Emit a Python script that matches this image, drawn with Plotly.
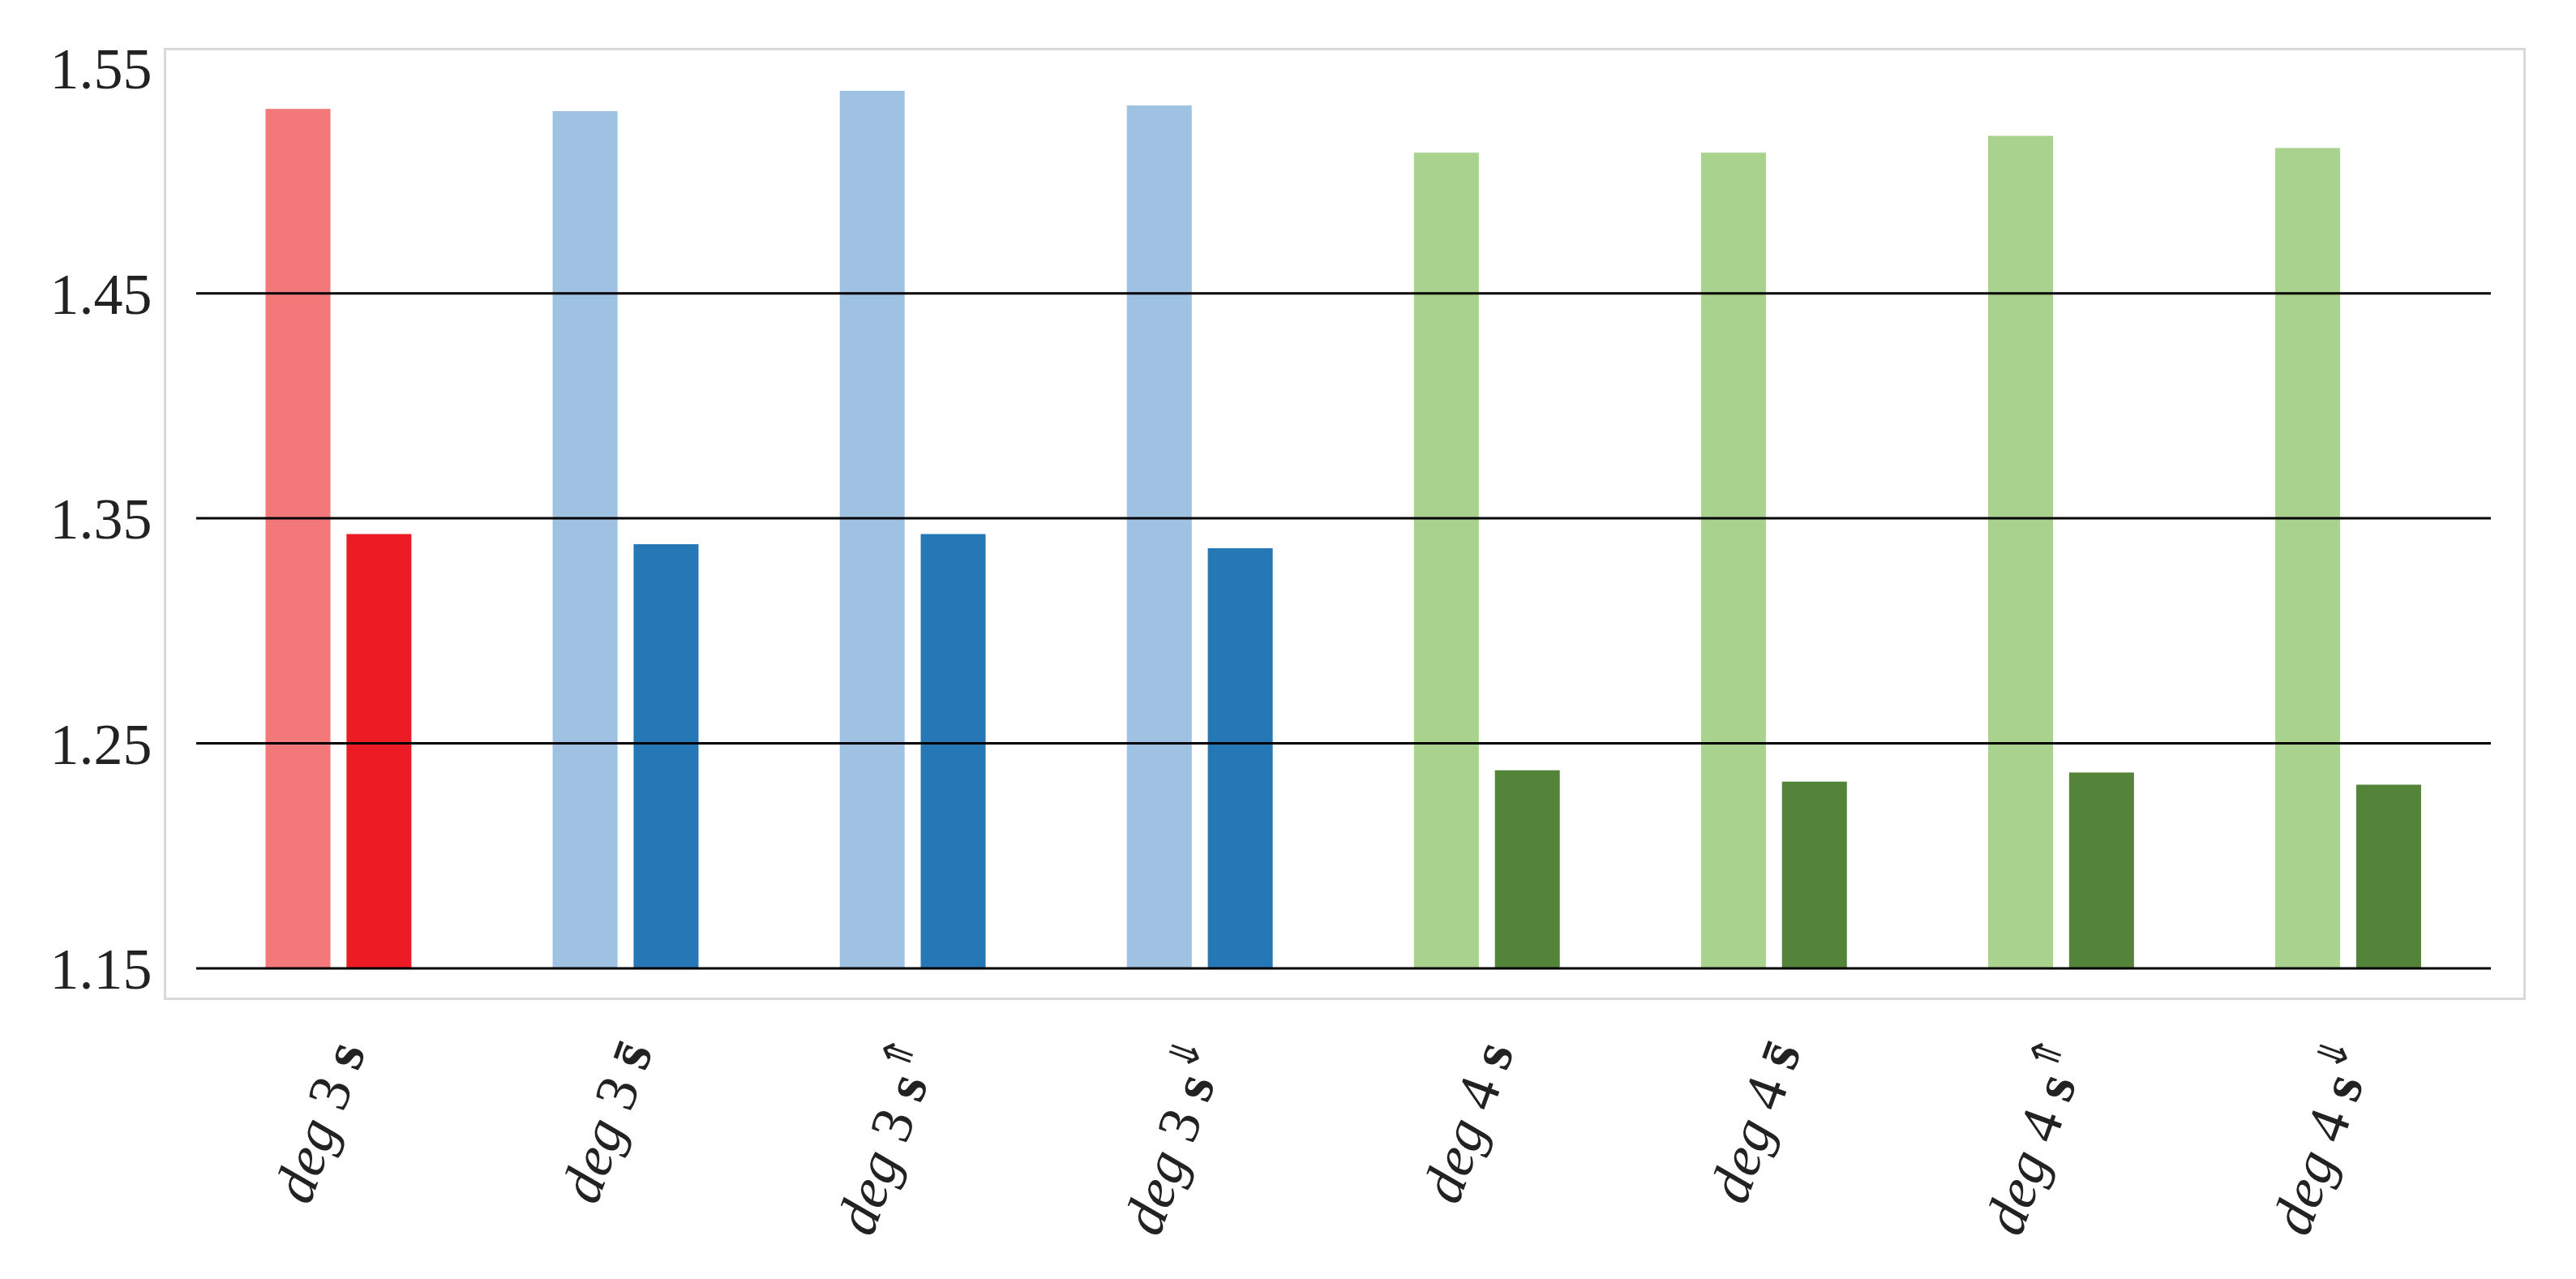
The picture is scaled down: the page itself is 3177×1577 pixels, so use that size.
import plotly.graph_objects as go

categories = ["<i>deg</i> 3 <b>s</b>", "<i>deg</i> 3 <b>s̄</b>", "<i>deg</i> 3 <b>s</b><sup>⇑</sup>", "<i>deg</i> 3 <b>s</b><sup>⇓</sup>",
              "<i>deg</i> 4 <b>s</b>", "<i>deg</i> 4 <b>s̄</b>", "<i>deg</i> 4 <b>s</b><sup>⇑</sup>", "<i>deg</i> 4 <b>s</b><sup>⇓</sup>"]
light_vals = [1.532, 1.531, 1.540, 1.5335, 1.5125, 1.5125, 1.520, 1.5146]
dark_vals = [1.343, 1.3385, 1.343, 1.3367, 1.238, 1.233, 1.237, 1.2316]
light_colors = ["#f2787a"] + ["#9fc2e3"] * 3 + ["#a8d28d"] * 4
dark_colors = ["#ed1c24"] + ["#2577b6"] * 3 + ["#548439"] * 4
yticks = [1.15, 1.25, 1.35, 1.45, 1.55]
base = 1.15

xs = list(range(len(categories)))
fig = go.Figure()
fig.add_bar(x=[x - 0.141 for x in xs], y=[v - base for v in light_vals], base=base,
            width=0.226, marker_color=light_colors, marker_line_width=0)
fig.add_bar(x=[x + 0.141 for x in xs], y=[v - base for v in dark_vals], base=base,
            width=0.226, marker_color=dark_colors, marker_line_width=0)

x0 = (234 - 197) / 2907
x1 = (3064 - 197) / 2907
for t in yticks[:-1]:
    fig.add_shape(type="line", xref="paper", yref="y", x0=x0, x1=x1, y0=t, y1=t,
                  line=dict(color="black", width=3), layer="above")

fig.update_layout(
    width=3177, height=1577, barmode="overlay", showlegend=False,
    plot_bgcolor="white", paper_bgcolor="white",
    margin=dict(l=197, r=73, t=54, b=355),
    font=dict(family="Liberation Serif", color="#222222", size=70),
    xaxis=dict(range=[-0.6, 7.61], tickmode="array", tickvals=xs, ticktext=categories,
               tickangle=-70, showgrid=False, zeroline=False, showline=True, mirror=True,
               linecolor="#d9d9d9", linewidth=3, ticks="", tickfont=dict(size=72)),
    yaxis=dict(range=[1.137, 1.558], tickmode="array", tickvals=yticks,
               ticktext=[f"{t:.2f}" for t in yticks], showgrid=False, zeroline=False,
               showline=True, mirror=True, linecolor="#d9d9d9", linewidth=3, ticks="",
               tickfont=dict(size=72)),
)
fig.write_html("out.html")
